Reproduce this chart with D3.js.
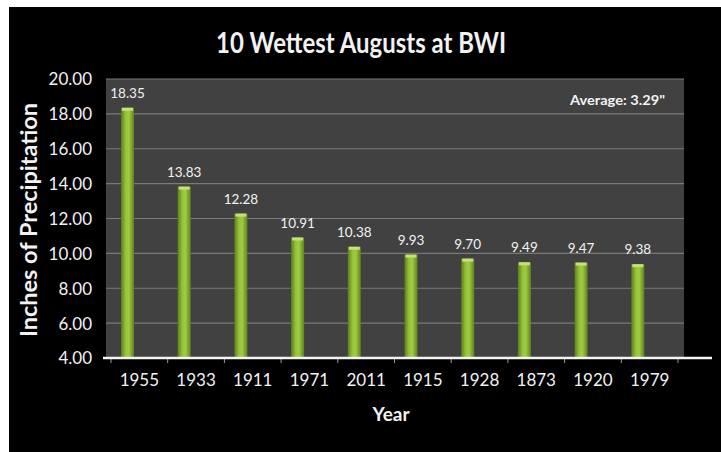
<!DOCTYPE html>
<html>
<head>
<meta charset="utf-8">
<script src="https://cdn.jsdelivr.net/npm/d3@7"></script>
<style>
  html, body { margin: 0; padding: 0; background: #fff; }
  svg { display: block; }
  text { font-family: Lato, "Open Sans", sans-serif; fill: #f2f2f2; }
</style>
</head>
<body>
<svg id="chart"></svg>
<script>
(function () {
  'use strict';

  const years = ['1955', '1933', '1911', '1971', '2011', '1915', '1928', '1873', '1920', '1979'];
  const inches = [18.35, 13.83, 12.28, 10.91, 10.38, 9.93, 9.70, 9.49, 9.47, 9.38];
  const yTicks = [4, 6, 8, 10, 12, 14, 16, 18, 20];
  const average = 'Average: 3.29"';

  const width = 721;
  const height = 452;
  const plot = { left: 106, right: 684, top: 79, bottom: 358 };

  const svg = d3.select('#chart')
    .attr('width', width)
    .attr('height', height);

  // black slide background, white edge on top and left
  svg.append('rect')
    .attr('x', 9).attr('y', 7)
    .attr('width', width - 9).attr('height', height - 7)
    .attr('fill', '#000');

  const defs = svg.append('defs');
  const grad = defs.append('linearGradient')
    .attr('id', 'barGrad')
    .attr('x1', '0%').attr('x2', '100%')
    .attr('y1', '0%').attr('y2', '0%');
  grad.append('stop').attr('offset', '0%').attr('stop-color', '#5c7d1c');
  grad.append('stop').attr('offset', '35%').attr('stop-color', '#94c23a');
  grad.append('stop').attr('offset', '60%').attr('stop-color', '#9fcc42');
  grad.append('stop').attr('offset', '100%').attr('stop-color', '#5f821e');

  const x = d3.scaleBand()
    .domain(years)
    .range([111, 678])
    .paddingInner(0)
    .paddingOuter(0);

  const y = d3.scaleLinear()
    .domain([4, 20])
    .range([plot.bottom, plot.top]);

  // plot area
  svg.append('rect')
    .attr('x', plot.left).attr('y', plot.top)
    .attr('width', plot.right - plot.left)
    .attr('height', plot.bottom - plot.top)
    .attr('fill', '#414141');

  // gridlines
  svg.append('g')
    .selectAll('line')
    .data(yTicks.filter(t => t > 4))
    .enter()
    .append('line')
      .attr('x1', plot.left)
      .attr('x2', plot.right)
      .attr('y1', d => y(d))
      .attr('y2', d => y(d))
      .attr('stroke', '#7a7a7a')
      .attr('stroke-width', 1.2);

  // y axis labels
  const yAxis = d3.axisLeft(y)
    .tickValues(yTicks)
    .tickFormat(d3.format('.2f'))
    .tickSize(0)
    .tickPadding(14);
  const gy = svg.append('g')
    .attr('transform', `translate(${plot.left},0)`)
    .call(yAxis);
  gy.select('.domain').remove();
  gy.selectAll('text')
    .style('font-size', '17px')
    .attr('fill', '#e8e8e8')
    .attr('dy', '0.35em');

  // bars, sit left of band centre like the original
  const barW = 13;
  const barOff = 10;
  svg.append('g')
    .selectAll('rect')
    .data(inches)
    .enter()
    .append('rect')
      .attr('x', (d, i) => x(years[i]) + barOff)
      .attr('y', d => y(d))
      .attr('width', barW)
      .attr('height', d => y(4) - y(d))
      .attr('fill', 'url(#barGrad)');

  // bar top caps
  svg.append('g')
    .selectAll('rect')
    .data(inches)
    .enter()
    .append('rect')
      .attr('x', (d, i) => x(years[i]) + barOff + 1)
      .attr('y', d => y(d))
      .attr('width', barW - 2)
      .attr('height', 3)
      .attr('fill', '#c5e27a');

  // value labels
  svg.append('g')
    .selectAll('text')
    .data(inches)
    .enter()
    .append('text')
      .attr('x', (d, i) => x(years[i]) + barOff + barW / 2)
      .attr('y', d => y(d) - 10)
      .attr('text-anchor', 'middle')
      .style('font-size', '13.5px')
      .text(d => d3.format('.2f')(d));

  // x axis
  const xAxis = d3.axisBottom(x)
    .tickSize(0)
    .tickPadding(16);
  const gx = svg.append('g')
    .attr('transform', `translate(0,${plot.bottom})`)
    .call(xAxis);
  gx.select('.domain').remove();
  gx.selectAll('text')
    .style('font-size', '17px')
    .attr('fill', '#e8e8e8');

  // tick marks at band edges
  svg.append('g')
    .selectAll('line')
    .data(years.concat(['end']))
    .enter()
    .append('line')
      .attr('x1', (d, i) => i < years.length ? x(d) : x.range()[1])
      .attr('x2', (d, i) => i < years.length ? x(d) : x.range()[1])
      .attr('y1', plot.bottom)
      .attr('y2', plot.bottom + 5)
      .attr('stroke', '#9a9a9a')
      .attr('stroke-width', 1);

  svg.append('line')
    .attr('x1', 103).attr('x2', 712)
    .attr('y1', plot.bottom).attr('y2', plot.bottom)
    .attr('stroke', '#f4f4f4')
    .attr('stroke-width', 2.5);

  // titles (squeezed a bit, the original font is narrower)
  svg.append('text')
    .attr('x', 361)
    .attr('y', 53)
    .attr('text-anchor', 'middle')
    .attr('textLength', 290)
    .attr('lengthAdjust', 'spacingAndGlyphs')
    .style('font-size', '29px')
    .style('font-weight', 'bold')
    .text('10 Wettest Augusts at BWI');

  svg.append('text')
    .attr('transform', 'translate(37,220) rotate(-90)')
    .attr('text-anchor', 'middle')
    .attr('textLength', 234)
    .attr('lengthAdjust', 'spacingAndGlyphs')
    .style('font-size', '23px')
    .style('font-weight', 'bold')
    .text('Inches of Precipitation');

  svg.append('text')
    .attr('x', 391)
    .attr('y', 421)
    .attr('text-anchor', 'middle')
    .style('font-size', '19px')
    .style('font-weight', 'bold')
    .text('Year');

  svg.append('text')
    .attr('x', 570)
    .attr('y', 105)
    .attr('textLength', 95)
    .attr('lengthAdjust', 'spacingAndGlyphs')
    .style('font-size', '12.5px')
    .style('font-weight', 'bold')
    .text(average);

}());
</script>
</body>
</html>
